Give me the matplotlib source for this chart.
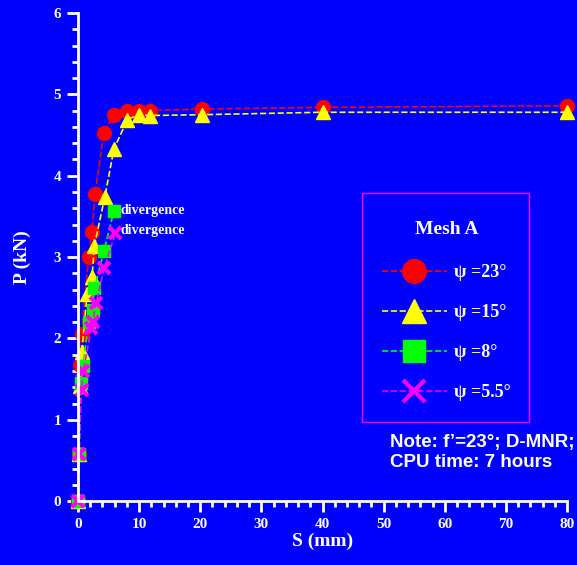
import numpy as np
import matplotlib.pyplot as plt
from matplotlib.patches import Rectangle
from matplotlib.ticker import MultipleLocator

# data: S (mm), P (kN)
s23 = [0, 0.2, 0.4, 0.6, 1.75, 2.3, 2.8, 4.25, 5.9, 8.1, 10, 11.8, 20.3, 40, 80]
p23 = [0, 0.58, 1.67, 2.05, 3.0, 3.31, 3.77, 4.53, 4.75, 4.8, 4.79, 4.8, 4.82, 4.84, 4.86]
s15 = [0, 0.2, 0.4, 0.65, 1.5, 2.3, 2.7, 4.4, 5.9, 8.1, 10, 11.8, 20.3, 40, 80]
p15 = [0, 0.58, 1.42, 1.83, 2.55, 2.75, 3.14, 3.74, 4.33, 4.69, 4.75, 4.74, 4.75, 4.78, 4.78]
s8 = [0, 0.1, 0.55, 0.8, 1.75, 2.4, 2.7, 4.25, 5.9]
p8 = [0, 0.58, 1.45, 1.66, 2.2, 2.35, 2.62, 3.07, 3.57]
s55 = [0, 0.1, 0.6, 0.9, 2.2, 2.4, 3.0, 4.3, 6.1]
p55 = [0, 0.58, 1.37, 1.6, 2.13, 2.2, 2.44, 2.86, 3.29]

blue = "#0000FF"
serif = "Liberation Serif"

fig = plt.figure(figsize=(5.77, 5.65), dpi=100, facecolor=blue)
ax = fig.add_axes([0.135, 0.113, 0.848, 0.864], facecolor=blue)

ax.plot(s23, p23, "--", color="red", lw=1.2, marker="o", ms=10, mec="red",
        label="ψ =23°", clip_on=False)
ax.plot(s15, p15, "--", color="yellow", lw=1.2, marker="^", ms=10.5, mec="yellow",
        label="ψ =15°", clip_on=False)
ax.plot(s8, p8, "--", color="#00FF00", lw=1.2, marker="s", ms=9, mec="#00FF00",
        label="ψ =8°", clip_on=False)
ax.plot(s55, p55, "--", color="magenta", lw=1.2, marker="x", ms=9, mew=3,
        label="ψ =5.5°", clip_on=False)

ax.text(s8[-1] + 1.1, p8[-1], "divergence", color="white", fontsize=10, fontweight="bold",
        family=serif, va="center", ha="left")
ax.text(s55[-1] + 0.9, p55[-1] + 0.04, "divergence", color="white", fontsize=10, fontweight="bold",
        family=serif, va="center", ha="left")

ax.set_xlim(0, 80)
ax.set_ylim(0, 6)
ax.xaxis.set_major_locator(MultipleLocator(10))
ax.xaxis.set_minor_locator(MultipleLocator(2))
ax.yaxis.set_major_locator(MultipleLocator(1))
ax.yaxis.set_minor_locator(MultipleLocator(0.2))

for sp in ["top", "right"]:
    ax.spines[sp].set_visible(False)
for sp in ["left", "bottom"]:
    ax.spines[sp].set_color("white")
    ax.spines[sp].set_linewidth(2)

ax.tick_params(which="major", direction="out", length=8, width=2, color="white",
               labelcolor="white", labelsize=11, pad=4)
ax.tick_params(which="minor", direction="out", length=4, width=2, color="white")
for lab in ax.get_xticklabels() + ax.get_yticklabels():
    lab.set_family(serif)
    lab.set_fontweight("bold")

ax.set_xlabel("S (mm)", color="white", fontsize=14, fontweight="bold", family=serif, labelpad=1)
ax.set_ylabel("P (kN)", color="white", fontsize=14, fontweight="bold", family=serif, labelpad=16)

# legend box drawn by hand so its padding matches
fig.patches.append(Rectangle((0.6274, 0.2531), 0.2894, 0.4053, transform=fig.transFigure,
                             facecolor=blue, edgecolor="magenta", lw=1, zorder=3))
leg = fig.legend(loc="upper left", bbox_to_anchor=(0.662, 0.609), frameon=False,
                 borderaxespad=0, borderpad=0,
                 markerscale=1.7, handlelength=3.6, handletextpad=0.4,
                 labelspacing=1.27,
                 title="Mesh A", prop={"family": serif, "weight": "bold", "size": 13},
                 title_fontproperties={"family": serif, "weight": "bold", "size": 14})
leg.set_zorder(4)
leg.get_title().set_color("white")
leg._legend_box.sep = 19
for t in leg.get_texts():
    t.set_color("white")

fig.text(0.676, 0.232, "Note: f’=23°; D-MNR;\nCPU time: 7 hours", color="white",
         fontsize=13.5, fontweight="bold", family="Liberation Sans", va="top", ha="left",
         linespacing=1.25)

fig.savefig("out.png", dpi=100, facecolor=blue)
